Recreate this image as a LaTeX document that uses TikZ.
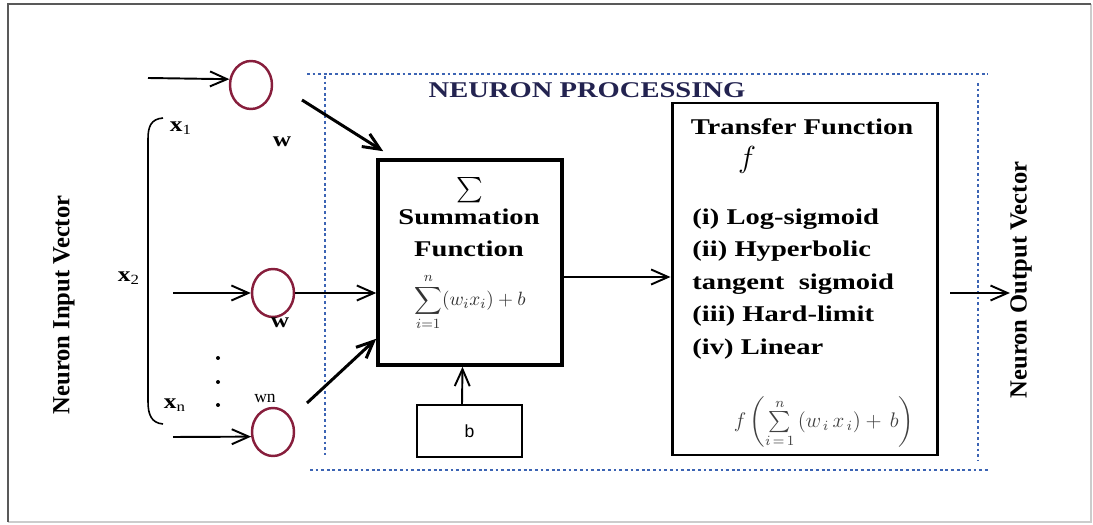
\documentclass[tikz,border=0pt]{standalone}
\usepackage{amsmath}
\usepackage{fontspec}
\setmainfont{Liberation Serif}
\setsansfont{Liberation Sans}
\usetikzlibrary{arrows.meta,shapes.geometric,positioning}

\definecolor{neuronred}{RGB}{135,30,60}
\definecolor{dotblue}{RGB}{60,100,180}
\definecolor{headnavy}{RGB}{35,35,80}

\begin{document}
\begin{tikzpicture}[
        head/.style={-{Straight Barb[length=3.4mm,width=3mm]}, line width=1.1pt},
        boldhead/.style={head, line width=1.7pt},
        lbl/.style={font=\fontsize{12.8}{18.5}\selectfont\bfseries, xscale=1.27, inner sep=0pt},
        inlbl/.style={font=\fontsize{12}{14}\selectfont\bfseries, xscale=1.2, inner sep=0pt},
        sidelbl/.style={font=\fontsize{14}{16}\selectfont\bfseries, rotate=90, inner sep=0pt},
        neuron/.style={ellipse, draw=neuronred, line width=1.4pt, minimum width=0.84cm, minimum height=0.96cm, inner sep=0pt},
        blockbox/.style={draw, line width=2pt},
        procline/.style={draw=dotblue, line width=1.6pt, dash pattern=on 1.6pt off 1.6pt}
    ]
        \useasboundingbox (0,0) rectangle (21.86,10.48);

        % frame
        \draw[black!20, line width=0.8pt] (0.16,0.04) -| (21.82,10.4);
        \draw[black!65, line width=1.2pt] (0.16,0.04) |- (21.82,10.4);

        % neuron processing area
        \draw[procline] (6.14,9.0) -- (19.76,9.0);
        \draw[procline] (6.2,1.08) -- (19.76,1.08);
        \draw[procline] (6.5,8.96) -- (6.5,1.38);
        \draw[procline] (19.56,8.82) -- (19.56,1.28);
        \node[lbl, text=headnavy] (proc) at (11.74,8.68) {NEURON PROCESSING};

        % inputs
        \node[sidelbl] (invec) at (1.28,4.38) {Neuron Input Vector};
        \draw[line width=0.9pt] (3.26,8.12) .. controls (3.02,8.1) and (2.96,7.95) .. (2.96,7.7)
            -- (2.96,2.45) .. controls (2.96,2.2) and (3.02,2.02) .. (3.26,2.0);
        \node[inlbl] (x1) at (3.62,7.92) {x\textsubscript{\mdseries 1}};
        \node[inlbl] (x2) at (2.58,4.92) {x\textsubscript{\mdseries 2}};
        \node[inlbl] (xn) at (3.5,2.38) {x\textsubscript{\mdseries n}};
        \foreach \y in {3.32,2.84,2.38}
            \fill (4.36,\y) circle (0.04);

        \node[neuron] (in1) at (5.02,8.78) {};
        \node[neuron] (in2) at (5.46,4.62) {};
        \node[neuron] (in3) at (5.46,1.84) {};

        \coordinate (s1) at (2.96,8.92);
        \coordinate (s2) at (3.46,4.62);
        \coordinate (s3) at (3.46,1.74);
        \draw[head] (s1) -- (in1.165);
        \draw[head] (s2) -- (in2.west);
        \draw[head] (s3) -- (in3.192);

        \node[inlbl] (w1) at (5.64,7.64) {w};
        \node[inlbl] (w2) at (5.6,4.02) {w};
        \node[font=\fontsize{10}{12}\selectfont, inner sep=0pt] (wn) at (5.3,2.52) {wn};

        % summation
        \node[blockbox, minimum width=3.68cm, minimum height=4.1cm] (sum) at (9.4,5.23) {};
        \node[font=\fontsize{14}{16}\selectfont, inner sep=0pt] (sig) at (9.4,6.68) {$\textstyle\sum$};
        \node[lbl, align=center] (sumname) at (9.38,5.82) {Summation\\Function};
        \node[text=black!80, font=\fontsize{11}{13}\selectfont, inner sep=0pt] (sumf) at (9.4,4.44)
            {$\displaystyle\sum_{i=1}^{n}(w_i x_i)+b$};

        \node[draw, line width=1.1pt, minimum width=2.1cm, minimum height=1.04cm,
              font=\sffamily\fontsize{10}{12}\selectfont] (bias) at (9.39,1.86) {b};

        \coordinate (c1) at (6.04,8.48);
        \coordinate (c3) at (6.14,2.42);
        \draw[boldhead] (c1) -- ([shift={(0.14,0.14)}]sum.north west);
        \draw[head] (in2.east) -- (sum.west |- in2.east);
        \draw[boldhead] (c3) -- ([yshift=0.56cm]sum.south west);
        \draw[head] ([xshift=-0.15cm]bias.north) -- ([xshift=-0.15cm]sum.south);

        % transfer function
        \node[blockbox, line width=1.7pt, minimum width=5.3cm, minimum height=7.04cm] (tf) at (16.09,4.9) {};
        \node[lbl] (tfname) at (16.04,7.94) {Transfer Function};
        \node[font=\fontsize{16}{18}\selectfont, inner sep=0pt] (fsym) at (14.94,7.28) {$f$};
        \node[lbl, anchor=west, align=left] (tflist) at (13.84,4.8)
            {(i) Log-sigmoid\\(ii) Hyperbolic\\tangent\ \ sigmoid\\(iii) Hard-limit\\(iv) Linear};
        \node[text=black!75, font=\fontsize{11.5}{13}\selectfont, inner sep=0pt] (tff) at (16.48,2.04)
            {$f\left(\sum\limits_{i\,=\,1}^{n}\left(w_{\,i}\,x_{\,i}\right)+\,b\right)$};

        \draw[head] ([yshift=-0.29cm]sum.east) -- ([yshift=0.04cm]tf.west);

        % output
        \node[sidelbl] (outvec) at (20.42,4.88) {Neuron Output Vector};
        \coordinate (o1) at (19.0,4.62);
        \draw[head] (o1) -- (outvec.north |- o1);
\end{tikzpicture}
\end{document}
